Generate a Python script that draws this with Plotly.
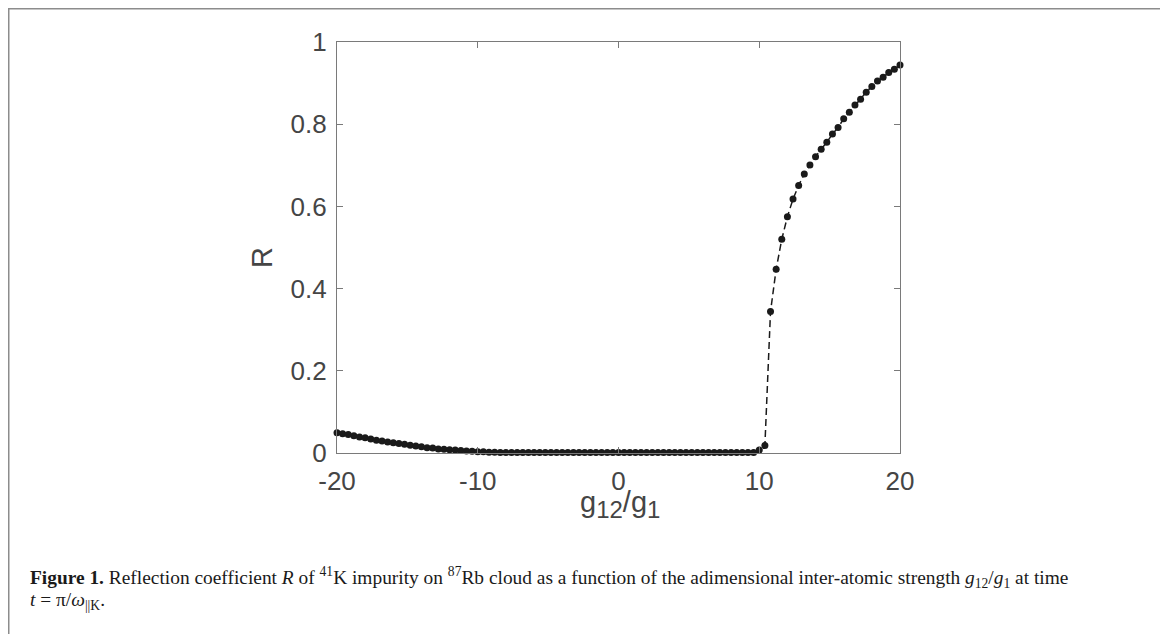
import numpy as np
import plotly.graph_objects as go

# Data (g12/g1 from -20 to 20, step 0.4)
g_ratio = [round(-20 + 0.4 * i, 1) for i in range(101)]
R_left = [0.049, 0.047, 0.045, 0.042, 0.039, 0.037, 0.034, 0.031, 0.029, 0.027,
          0.025, 0.023, 0.021, 0.019, 0.017, 0.015, 0.013, 0.012, 0.010, 0.009,
          0.008, 0.007, 0.006, 0.005, 0.004, 0.003, 0.003, 0.002, 0.002, 0.001]
R_flat = [0.001] * 45
R_right = [0.007, 0.018, 0.344, 0.447, 0.520, 0.575, 0.618, 0.651, 0.679, 0.701,
           0.721, 0.739, 0.756, 0.776, 0.792, 0.813, 0.829, 0.847, 0.861, 0.878,
           0.892, 0.905, 0.914, 0.926, 0.934, 0.944]
R_values = R_left + R_flat + R_right

x_ticks = [-20, -10, 0, 10, 20]
y_ticks = [0, 0.2, 0.4, 0.6, 0.8, 1]
y_tick_text = ["0", "0.2", "0.4", "0.6", "0.8", "1"]

W, H = 1168, 634
# plot area in figure pixels (page has an 8px body margin)
L, Rr, T, B = 329, 892, 34, 445

fig = go.Figure()
fig.add_trace(go.Scatter(
    x=g_ratio, y=R_values, mode="lines+markers",
    line=dict(color="#1a1a1a", width=1.5, dash="7px,4px"),
    marker=dict(color="#1a1a1a", size=7),
    showlegend=False, cliponaxis=False,
))

axis_common = dict(
    showline=True, linecolor="#7a7a7a", linewidth=1.2, mirror="ticks",
    ticks="inside", ticklen=6, tickcolor="#7a7a7a", tickwidth=1,
    showgrid=False, zeroline=False,
    tickfont=dict(family="Liberation Sans, Arial", size=26, color="#454545"),
    automargin=False,
)

fig.update_layout(
    width=W, height=H,
    margin=dict(l=0, r=0, t=0, b=0),
    paper_bgcolor="white", plot_bgcolor="white",
    xaxis=dict(domain=[L / W, Rr / W], range=[-20, 20], tickvals=x_ticks,
               ticktext=[str(v) for v in x_ticks], ticklabelstandoff=5, **axis_common),
    yaxis=dict(domain=[1 - B / H, 1 - T / H], range=[0, 1], tickvals=y_ticks,
               ticktext=y_tick_text, ticklabelstandoff=4, **axis_common),
)

title_font = dict(family="Liberation Sans, Arial", size=29, color="#454545")
fig.add_annotation(xref="paper", yref="paper", x=612 / W, y=1 - 496 / H,
                   xanchor="center", yanchor="middle", showarrow=False,
                   text=("g<sub><span style='font-size:24px'>12</span></sub>/"
                         "g<sub><span style='font-size:24px'>1</span></sub>"),
                   font=title_font)
fig.add_annotation(xref="paper", yref="paper", x=254 / W, y=1 - 250 / H,
                   xanchor="center", yanchor="middle", showarrow=False, textangle=-90,
                   text="R", font=title_font)

# outer frame
fig.add_shape(type="rect", xref="paper", yref="paper",
              x0=0.5 / W, x1=1155 / W, y0=-0.05, y1=1 - 0.5 / H,
              line=dict(color="#8c8c8c", width=2), fillcolor="rgba(0,0,0,0)", layer="below")

cap_font = dict(family="Liberation Serif, Times New Roman, serif", size=19.4, color="#1a1a1a")
fig.add_annotation(
    xref="paper", yref="paper", x=20 / W, y=1 - 569 / H, xanchor="left", yanchor="middle",
    showarrow=False, align="left", font=cap_font,
    text=("<b>Figure 1.</b> Reflection coefficient <i>R</i> of <sup>41</sup>K impurity on "
          "<sup>87</sup>Rb cloud as a function of the adimensional inter-atomic strength "
          "<i>g</i><sub>12</sub>/<i>g</i><sub>1</sub> at time"),
)
fig.add_annotation(
    xref="paper", yref="paper", x=20 / W, y=1 - 593 / H, xanchor="left", yanchor="middle",
    showarrow=False, align="left", font=cap_font,
    text="<i>t</i> = π/<i>ω</i><sub>||K</sub>.",
)

fig.write_html("out.html")
